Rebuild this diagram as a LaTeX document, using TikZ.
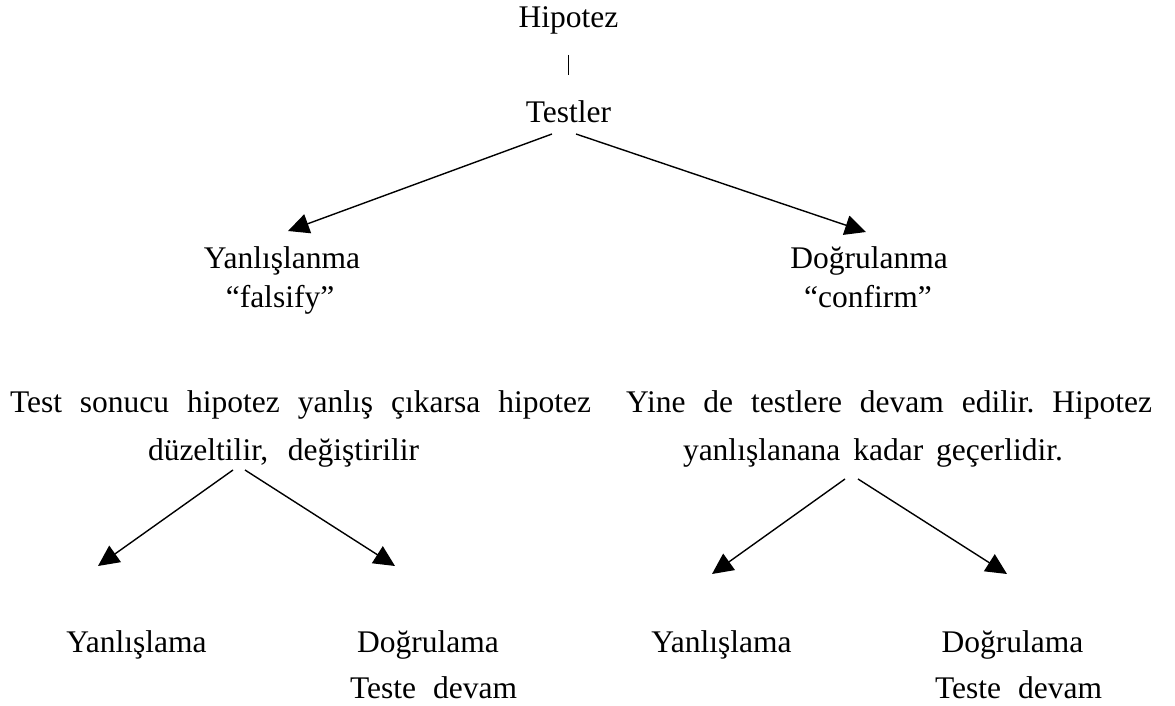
\documentclass[tikz,border=0pt]{standalone}
\usepackage{fontspec}
\setmainfont{Liberation Serif}
\usetikzlibrary{arrows.meta}
\frenchspacing
\tikzset{
  txt/.style={anchor=base, inner sep=0pt, font=\fontsize{31.5}{38}\selectfont\frenchspacing},
  arr/.style={line width=1.4pt, -{Triangle[length=21pt,width=20pt]}},
  bar/.style={line width=1.6pt}
}
\begin{document}
\begin{tikzpicture}[x=1pt,y=-1pt]
\useasboundingbox (0,0) rectangle (1175,706);
% top
\node[txt] (hip) at (568.5,28) {Hipotez};
\node[txt] (testler) at (568.5,123) {Testler};
\draw[bar] ([shift={(0,27)}]hip.base) -- ([shift={(0,-48)}]testler.base);
% second level
\node[txt] (yl) at (282,268) {Yanlışlanma};
\node[txt] (fals) at (280,307) {“falsify”};
\node[txt] (dl) at (869,268) {Doğrulanma};
\node[txt] (conf) at (868,307) {“confirm”};
\draw[arr] ([shift={(-16.5,11)}]testler.base) -- ([shift={(6,-37)}]yl.base);
\draw[arr] ([shift={(7.5,11)}]testler.base) -- ([shift={(-3,-36)}]dl.base);
% paragraphs
\node[txt] (l1) at (300.5,412) {\makebox[581pt][s]{Test sonucu hipotez yanlış çıkarsa hipotez}};
\node[txt] (l2) at (283.5,460) {\makebox[271pt][s]{düzeltilir, değiştirilir}};
\node[txt] (r1) at (889,412) {\makebox[526pt][s]{Yine de testlere devam edilir. Hipotez}};
\node[txt] (r2) at (873,460) {\makebox[380pt][s]{yanlışlanana kadar geçerlidir.}};
% bottom level
\node[txt] (ly1) at (136.5,652) {Yanlışlama};
\node[txt] (ld1) at (428,652) {Doğrulama};
\node[txt] (lt1) at (433.5,698) {\makebox[167pt][s]{Teste devam}};
\node[txt] (ly2) at (721.5,652) {Yanlışlama};
\node[txt] (ld2) at (1012.5,652) {Doğrulama};
\node[txt] (lt2) at (1018.5,698) {\makebox[167pt][s]{Teste devam}};
\draw[arr] ([shift={(-50.5,10)}]l2.base) -- ([shift={(-38.5,-86)}]ly1.base);
\draw[arr] ([shift={(-38.5,10)}]l2.base) -- ([shift={(-33,-86)}]ld1.base);
\draw[arr] ([shift={(-28,19)}]r2.base) -- ([shift={(-9.5,-78)}]ly2.base);
\draw[arr] ([shift={(-15,19)}]r2.base) -- ([shift={(-5.5,-78)}]ld2.base);
\end{tikzpicture}
\end{document}
